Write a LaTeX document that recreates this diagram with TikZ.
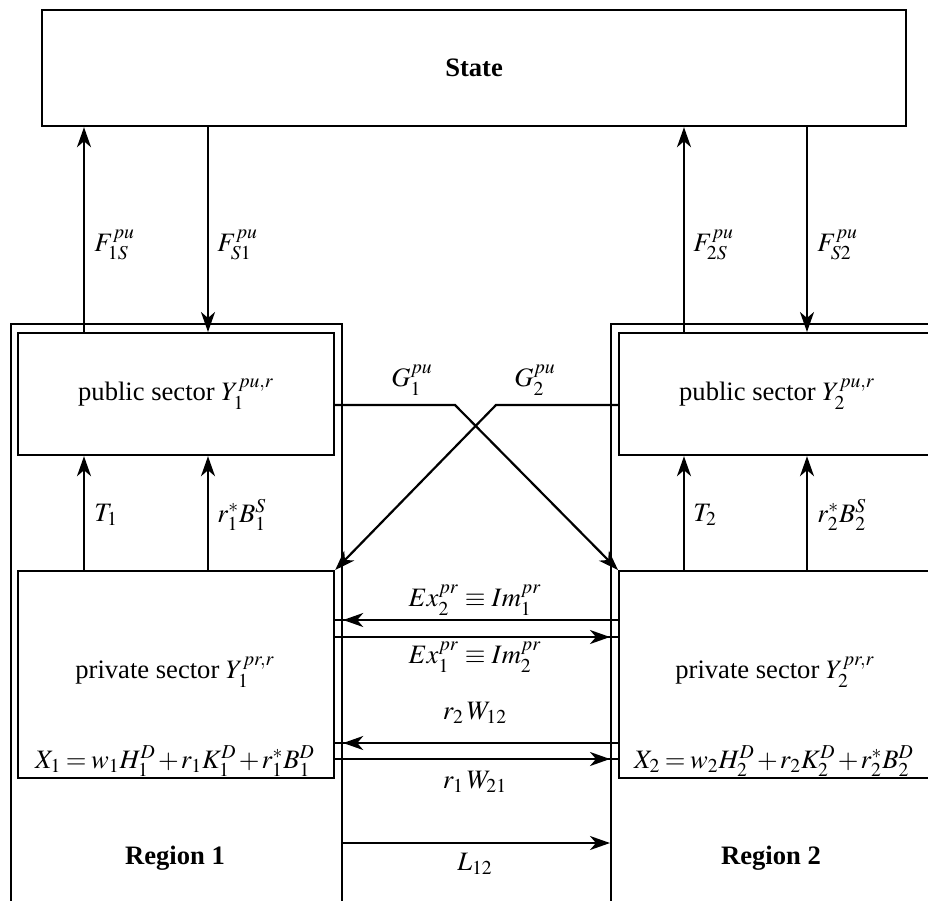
\documentclass[tikz,border=0pt]{standalone}
\usepackage{mathptmx}
\usepackage{fontspec}
\setmainfont{Liberation Serif}
\usetikzlibrary{arrows.meta}
\tikzset{
  box/.style={draw, line width=1.1pt, inner sep=0pt, anchor=north west},
  arr/.style={-{Stealth[length=10pt,width=7pt,inset=3pt]}, line width=1.1pt},
  ln/.style={line width=1.1pt},
  lab/.style={inner sep=1pt},
  eqn/.style={execute at begin node={\medmuskip=1.5mu\thickmuskip=3mu}}
}
\begin{document}
\begin{tikzpicture}[x=0.5pt,y=-0.5pt,font=\fontsize{13.3}{16}\selectfont]
\useasboundingbox (0,0) rectangle (928,901);
\clip (0,0) rectangle (928,901);
% boxes
\node[box, minimum width=432pt, minimum height=58pt] (state) at (41,9) {\textbf{State}};
\node[box, minimum width=165.5pt, minimum height=320pt] (reg1) at (10,323) {};
\node[box, minimum width=165.5pt, minimum height=320pt] (reg2) at (610,323) {};
\node[box, minimum width=158pt, minimum height=61pt] (pub1) at (17,332) {public sector $Y_1^{pu,r}$};
\node[box, minimum width=158pt, minimum height=61pt] (pub2) at (618,332) {public sector $Y_2^{pu,r}$};
\node[box, minimum width=158pt, minimum height=103.5pt] (priv1) at (17,570) {};
\node[box, minimum width=158pt, minimum height=103.5pt] (priv2) at (618,570) {};
% box texts
\node (pt1) at (175,672) {private sector $Y_1^{pr,r}$};
\node (pt2) at (775,672) {private sector $Y_2^{pr,r}$};
\node[eqn] (x1) at (175,761) {$X_1 = w_1 H_1^D + r_1 K_1^D + r_1^* B_1^D$};
\node[eqn] (x2) at (774,761) {$X_2 = w_2 H_2^D + r_2 K_2^D + r_2^* B_2^D$};
\node (rl1) at (175,858) {\textbf{Region 1}};
\node (rl2) at (771,858) {\textbf{Region 2}};
% helper coordinates
\coordinate (xa) at (84,0);
\coordinate (xb) at (208,0);
\coordinate (xc) at (684,0);
\coordinate (xd) at (807,0);
\coordinate (yg) at (0,405);
\coordinate (g1) at (455,405);
\coordinate (g2) at (496,405);
\coordinate (ya) at (0,620);
\coordinate (yb) at (0,637);
\coordinate (yc) at (0,743);
\coordinate (yd) at (0,759);
\coordinate (ye) at (0,843);
% vertical flows
\draw[arr] (pub1.north -| xa) -- (state.south -| xa);
\draw[arr] (state.south -| xb) -- (pub1.north -| xb);
\draw[arr] (pub2.north -| xc) -- (state.south -| xc);
\draw[arr] (state.south -| xd) -- (pub2.north -| xd);
\draw[arr] (priv1.north -| xa) -- (pub1.south -| xa);
\draw[arr] (priv1.north -| xb) -- (pub1.south -| xb);
\draw[arr] (priv2.north -| xc) -- (pub2.south -| xc);
\draw[arr] (priv2.north -| xd) -- (pub2.south -| xd);
% G flows
\draw[arr] (pub1.east |- yg) -- (g1) -- (priv2.north west);
\draw[arr] (pub2.west |- yg) -- (g2) -- (priv1.north east);
% horizontal flows
\draw[ln] (priv2.west |- ya) -- (priv1.east |- ya);
\draw[arr] (priv2.west |- ya) -- (reg1.east |- ya);
\draw[ln] (priv1.east |- yb) -- (priv2.west |- yb);
\draw[arr] (priv1.east |- yb) -- (reg2.west |- yb);
\draw[ln] (priv2.west |- yc) -- (priv1.east |- yc);
\draw[arr] (priv2.west |- yc) -- (reg1.east |- yc);
\draw[ln] (priv1.east |- yd) -- (priv2.west |- yd);
\draw[arr] (priv1.east |- yd) -- (reg2.west |- yd);
\draw[arr] (reg1.east |- ye) -- (reg2.west |- ye);
% labels
\node[lab, anchor=west] (lf1s) at (92,245) {$F_{1S}^{pu}$};
\node[lab, anchor=west] (lfs1) at (215,245) {$F_{S1}^{pu}$};
\node[lab, anchor=west] (lf2s) at (691,245) {$F_{2S}^{pu}$};
\node[lab, anchor=west] (lfs2) at (815,245) {$F_{S2}^{pu}$};
\node[lab, anchor=west] (lt1) at (92,515) {$T_1$};
\node[lab, anchor=west] (lb1) at (215,515) {$r_1^* B_1^S$};
\node[lab, anchor=west] (lt2) at (691,515) {$T_2$};
\node[lab, anchor=west] (lb2) at (815,515) {$r_2^* B_2^S$};
\node[lab] (lg1) at (412,380) {$G_1^{pu}$};
\node[lab] (lg2) at (535,380) {$G_2^{pu}$};
\node[lab] (lex2) at (475,600) {$Ex_2^{pr} \equiv Im_1^{pr}$};
\node[lab] (lex1) at (475,657) {$Ex_1^{pr} \equiv Im_2^{pr}$};
\node[lab] (lw12) at (475,713) {$r_2\,W_{12}$};
\node[lab] (lw21) at (475,782) {$r_1\,W_{21}$};
\node[lab] (ll12) at (475,864) {$L_{12}$};
\end{tikzpicture}
\end{document}
